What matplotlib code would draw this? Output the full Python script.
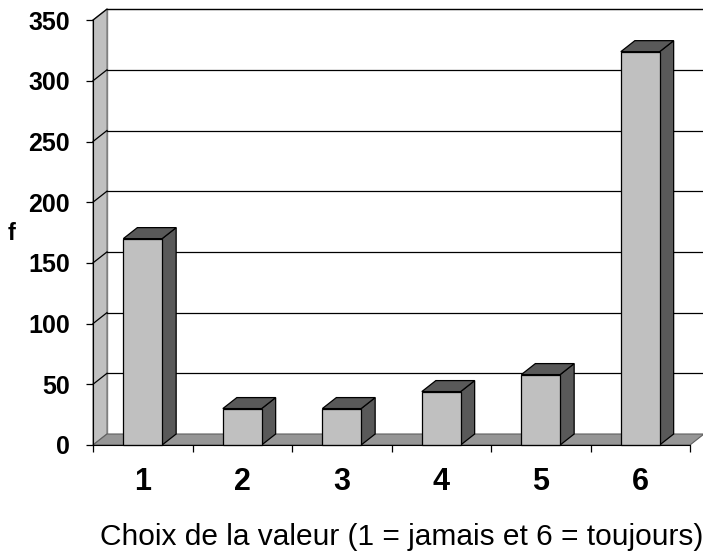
import matplotlib.pyplot as plt
from matplotlib.patches import Polygon

# données du graphique
categories = [1, 2, 3, 4, 5, 6]
frequences = [170, 30, 30, 44, 58, 324]
y_ticks = [0, 50, 100, 150, 200, 250, 300, 350]
x_label = 'Choix de la valeur (1 = jamais et 6 = toujours)'
y_label = 'f'

FRONT = '#c0c0c0'
SIDE = '#595959'
FLOOR = '#969696'
WALL = '#c0c0c0'

plt.rcParams['font.family'] = ['Liberation Sans', 'DejaVu Sans']

fig = plt.figure(figsize=(7.03, 5.53), dpi=100)
ax = fig.add_axes([93 / 703, (553 - 445) / 553, (704 - 93) / 703, (445 - 9) / 553])

# profondeur de l'effet 3D (en unités de données)
dx = 14 / 99.5
dy = 11 / 1.214
x0, x1 = 0.5, len(categories) + 0.5
ymax = y_ticks[-1]
ax.set_xlim(x0, x0 + 611 / 99.5)
ax.set_ylim(0, 436 / 1.214)
ax.patch.set_visible(False)

# paroi du fond (sans bord droit), paroi gauche et sol
ax.add_patch(Polygon([(x0 + dx, dy), (x1 + dx, dy), (x1 + dx, ymax + dy), (x0 + dx, ymax + dy)],
                     facecolor='white', edgecolor='none', zorder=1, clip_on=False))
ax.plot([x0 + dx, x0 + dx, x1 + dx], [dy, ymax + dy, ymax + dy], color='#808080', lw=1, zorder=1,
        clip_on=False)
ax.add_patch(Polygon([(x0, 0), (x0 + dx, dy), (x0 + dx, ymax + dy), (x0, ymax)],
                     facecolor=WALL, edgecolor='#808080', lw=1, zorder=1, clip_on=False))
for v in y_ticks[1:]:
    ax.plot([x0 + dx, x1 + dx], [v + dy, v + dy], color='black', lw=0.9, zorder=2, clip_on=False)
    ax.plot([x0, x0 + dx], [v, v + dy], color='black', lw=0.9, zorder=2, clip_on=False)
ax.add_patch(Polygon([(x0, 0), (x1, 0), (x1 + dx, dy), (x0 + dx, dy)],
                     facecolor=FLOOR, edgecolor='#606060', lw=0.8, zorder=3, clip_on=False))

# barres
w = 0.39
for c, v in zip(categories, frequences):
    l, r = c - w / 2, c + w / 2
    ax.add_patch(Polygon([(r, 0), (r + dx, dy), (r + dx, v + dy), (r, v)],
                         facecolor=SIDE, edgecolor='black', lw=0.9, zorder=4, clip_on=False))
    ax.add_patch(Polygon([(l, v), (r, v), (r + dx, v + dy), (l + dx, v + dy)],
                         facecolor=SIDE, edgecolor='black', lw=0.9, zorder=4, clip_on=False))
    ax.add_patch(Polygon([(l, 0), (r, 0), (r, v), (l, v)],
                         facecolor=FRONT, edgecolor='black', lw=0.9, zorder=5, clip_on=False))

# axes
for s in ['top', 'right']:
    ax.spines[s].set_visible(False)
ax.spines['left'].set_bounds(0, ymax)
ax.spines['bottom'].set_bounds(x0, x1)
ax.spines['left'].set_zorder(6)
ax.spines['bottom'].set_zorder(6)

ax.set_yticks(y_ticks)
ax.set_yticklabels([str(t) for t in y_ticks], fontweight='bold', fontsize=18)
ax.tick_params(axis='y', direction='out', length=5, width=0.9, pad=11.5)

ax.set_xticks([c - 0.5 for c in categories] + [x1])
ax.set_xticklabels([])
ax.set_xticks(categories, minor=True)
ax.set_xticklabels([str(c) for c in categories], minor=True, fontweight='bold', fontsize=22)
ax.tick_params(axis='x', which='major', direction='out', length=5, width=0.9)
ax.tick_params(axis='x', which='minor', length=0, pad=16)

fig.text(12 / 703, 1 - 233 / 553, y_label, ha='center', va='center', fontsize=17, fontweight='bold')
fig.text(402 / 703, 1 - 545 / 553, x_label, ha='center', va='baseline', fontsize=21.5)

plt.savefig('out.png', dpi=100)
